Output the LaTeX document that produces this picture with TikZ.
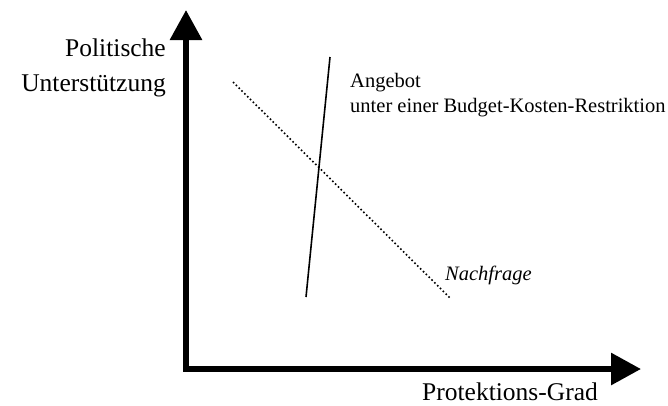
\documentclass[tikz,border=0pt]{standalone}
\usepackage{fontspec}
\setmainfont{Liberation Serif}
\usetikzlibrary{arrows.meta}
\begin{document}
\begin{tikzpicture}[x=1pt,y=-1pt,
  axis/.style={line width=6pt,line join=miter,
    {Triangle[length=30pt,width=31pt]}-{Triangle[length=30pt,width=31pt]}},
  biglabel/.style={font=\fontsize{25.5}{35}\selectfont,inner sep=0pt},
  smalllabel/.style={font=\fontsize{20.5}{25}\selectfont,inner sep=0pt},
  supply/.style={line width=1.6pt},
  demand/.style={line width=1.6pt,dash pattern=on 1.6pt off 2.4pt}]
\useasboundingbox (0,0) rectangle (668,405);
\coordinate (ytip) at (186,10);
\coordinate (xtip) at (641,369);
\draw[axis] (ytip) |- (xtip);
\coordinate (s1) at (306,297);
\coordinate (s2) at (330,57);
\coordinate (d1) at (233,82);
\coordinate (d2) at (450,298);
\draw[supply] (s1) -- (s2);
\draw[demand] (d1) -- (d2);
\node[biglabel,anchor=base east] (pol) at (166,56.7) {Politische};
\node[biglabel,anchor=base east] (unt) at (166,91.7) {Unterstützung};
\node[biglabel,anchor=base west] (prot) at (422,400) {Protektions-Grad};
\node[smalllabel,anchor=base west] (ang) at (350,87) {Angebot};
\node[smalllabel,anchor=base west] (ang2) at (350,112) {unter einer Budget-Kosten-Restriktion};
\node[smalllabel,anchor=base west,font=\fontsize{20.5}{25}\selectfont\itshape] (nach) at (445,280) {Nachfrage};
\end{tikzpicture}
\end{document}
